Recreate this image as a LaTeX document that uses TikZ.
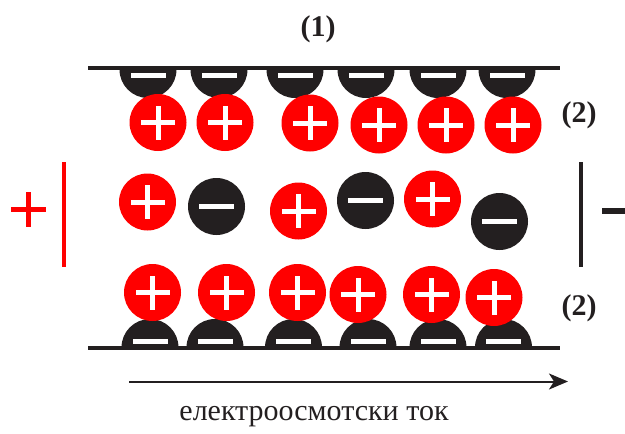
\documentclass[tikz,border=0pt]{standalone}
\usepackage{fontspec}
\setmainfont{Liberation Serif}
\usetikzlibrary{arrows.meta}
\definecolor{ired}{HTML}{FF0000}
\definecolor{idark}{HTML}{231F20}
\tikzset{
  ion/.style={circle, inner sep=0pt, minimum size=57pt},
  posion/.style={ion, fill=ired, path picture={
    \fill[white] ([xshift=-17pt,yshift=-2.5pt]path picture bounding box.center) rectangle ([xshift=17pt,yshift=2.5pt]path picture bounding box.center);
    \fill[white] ([xshift=-2.5pt,yshift=-17pt]path picture bounding box.center) rectangle ([xshift=2.5pt,yshift=17pt]path picture bounding box.center);}},
  negion/.style={ion, fill=idark, path picture={
    \fill[white] ([xshift=-17.5pt,yshift=-2.7pt]path picture bounding box.center) rectangle ([xshift=17.5pt,yshift=2.7pt]path picture bounding box.center);}},
  wall/.style={idark, line width=4pt},
  lbl/.style={font=\bfseries\fontsize{30}{34}\selectfont, text=idark, inner sep=0pt},
  flowtext/.style={font=\fontsize{30}{34}\selectfont, text=idark, inner sep=0pt},
}
\begin{document}
\begin{tikzpicture}[x=1pt,y=-1pt]
\useasboundingbox (0,0) rectangle (625,434);
% top wall half discs
\foreach \x in {148,219,295,366,438,507}{
  \fill[idark] (\x-28.5,69.5) arc[start angle=180,end angle=0,radius=28.5] -- cycle;
  \fill[white] (\x-17.5,72.5) rectangle (\x+17.5,77.7);
}
\draw[wall] (88,68) -- (560,68);
% bottom wall half discs
\foreach \x in {150,215,293.5,368,438,503.5}{
  \fill[idark] (\x-28.5,347.5) arc[start angle=180,end angle=360,radius=28.5] -- cycle;
  \fill[white] (\x-17.5,338.5) rectangle (\x+17.5,343.5);
}
\draw[wall] (88,348) -- (560,348);
% top positive layer
\node[posion] (t1) at (158,122.5) {};
\node[posion] (t2) at (225,122.5) {};
\node[posion] (t3) at (310,123) {};
\node[posion] (t4) at (379,125) {};
\node[posion] (t5) at (446,125) {};
\node[posion] (t6) at (513,125) {};
% middle ions
\node[posion] (m1) at (147.5,202) {};
\node[negion] (m2) at (216.5,206.5) {};
\node[posion] (m3) at (298.5,211) {};
\node[negion] (m4) at (365.5,200.5) {};
\node[posion] (m5) at (432.5,199) {};
\node[negion] (m6) at (499.5,221.5) {};
% bottom positive layer
\node[posion] (b1) at (152.5,292.5) {};
\node[posion] (b2) at (226.5,292.5) {};
\node[posion] (b3) at (297.5,292.5) {};
\node[posion] (b4) at (358,294.5) {};
\node[posion] (b5) at (431.5,294.5) {};
\node[posion] (b6) at (494,297.5) {};
% electrodes
\draw[ired, line width=4pt] (64,162) -- (64,267);
\draw[idark, line width=4pt] (581,162) -- (581,267);
\fill[ired] (11,207.3) rectangle (46,211.7);
\fill[ired] (26.2,192) rectangle (30.8,227);
\fill[idark] (602,208.2) rectangle (625,213.8);
% labels
\node[lbl] (l1) at (318,29) {(1)};
\node[lbl] (l2) at (579,115.5) {(2)};
\node[lbl] (l3) at (579,308.5) {(2)};
% flow arrow
\coordinate (fa) at (129,381.5);
\coordinate (fb) at (568,381.5);
\draw[idark, line width=2pt, -{Stealth[length=19pt,width=16pt,inset=5pt]}] (fa) -- (fb);
\node[flowtext] (ft) at (314,417) {електроосмотски ток};
\end{tikzpicture}
\end{document}
